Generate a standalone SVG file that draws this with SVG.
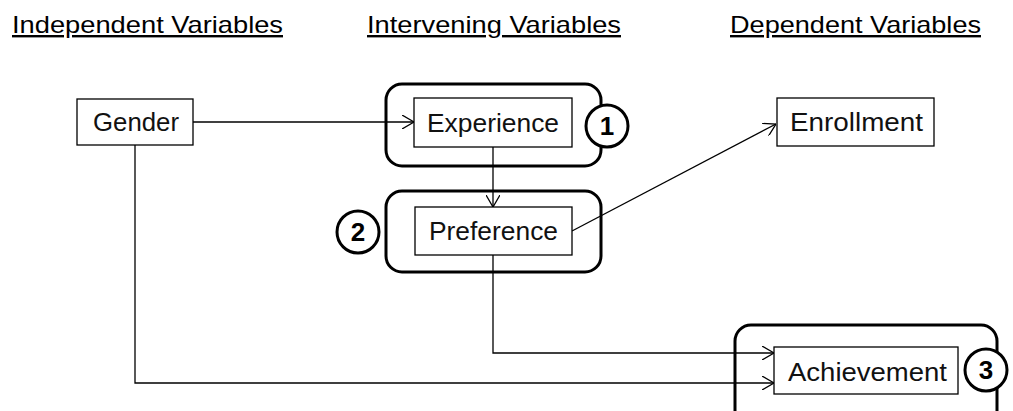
<svg xmlns="http://www.w3.org/2000/svg" width="1013" height="411" viewBox="0 0 1013 411">
<defs>
<style>
.hdr{font-family:"Liberation Sans",Arial,sans-serif;font-size:24px;fill:#000;text-decoration:underline}
.box{fill:#fff;stroke:#000;stroke-width:1.3}
.grp{fill:#fff;stroke:#000;stroke-width:3}
.lbl{font-family:"Liberation Sans",Arial,sans-serif;font-size:25px;fill:#111}
.num{font-family:"Liberation Sans",Arial,sans-serif;font-size:26px;font-weight:bold;fill:#000;text-anchor:middle}
.cir{fill:#fff;stroke:#000;stroke-width:3}
.con{fill:none;stroke:#000;stroke-width:1.3}
</style>
<marker id="arr" viewBox="0 0 12 14" refX="12" refY="7" markerWidth="12" markerHeight="14" markerUnits="userSpaceOnUse" orient="auto">
<path d="M0,0 L12,7 L0,14" fill="none" stroke="#000" stroke-width="1.3"/>
</marker>
</defs>
<rect width="1013" height="411" fill="#fff"/>
<g id="headers">
<text class="hdr" x="12" y="33" textLength="271" lengthAdjust="spacingAndGlyphs">Independent Variables</text>
<text class="hdr" x="367" y="33" textLength="254" lengthAdjust="spacingAndGlyphs">Intervening Variables</text>
<text class="hdr" x="730" y="33" textLength="251" lengthAdjust="spacingAndGlyphs">Dependent Variables</text>
</g>
<g id="group1">
<rect class="grp" x="386" y="84" width="215" height="82" rx="16"/>
</g>
<g id="group2">
<rect class="grp" x="386" y="191" width="215" height="81" rx="16"/>
</g>
<g id="group3">
<rect class="grp" x="735" y="325" width="262" height="110" rx="16"/>
</g>
<g id="connectors">
<path class="con" d="M193,122 H414" marker-end="url(#arr)"/>
<path class="con" d="M493,147 V207" marker-end="url(#arr)"/>
<path class="con" d="M572,231 L776,124" marker-end="url(#arr)"/>
<path class="con" d="M493,255 V353 H774" marker-end="url(#arr)"/>
<path class="con" d="M135,145 V383 H774" marker-end="url(#arr)"/>
</g>
<g id="gender">
<rect class="box" x="77" y="99" width="116" height="46"/>
<text class="lbl" x="93" y="131" textLength="86" lengthAdjust="spacingAndGlyphs">Gender</text>
</g>
<g id="experience">
<rect class="box" x="414" y="98" width="158" height="49"/>
<text class="lbl" x="427" y="132" textLength="132" lengthAdjust="spacingAndGlyphs">Experience</text>
</g>
<g id="preference">
<rect class="box" x="415" y="207" width="157" height="48"/>
<text class="lbl" x="429" y="240" textLength="129" lengthAdjust="spacingAndGlyphs">Preference</text>
</g>
<g id="enrollment">
<rect class="box" x="777" y="98" width="157" height="48"/>
<text class="lbl" x="790" y="131" textLength="133" lengthAdjust="spacingAndGlyphs">Enrollment</text>
</g>
<g id="achievement">
<rect class="box" x="774" y="347" width="184" height="47"/>
<text class="lbl" x="788" y="381" textLength="159" lengthAdjust="spacingAndGlyphs">Achievement</text>
</g>
<g id="marker1">
<circle class="cir" cx="607" cy="126" r="21"/>
<text class="num" x="607" y="135">1</text>
</g>
<g id="marker2">
<circle class="cir" cx="358" cy="232" r="21"/>
<text class="num" x="358" y="241">2</text>
</g>
<g id="marker3">
<circle class="cir" cx="986" cy="370" r="21"/>
<text class="num" x="986" y="379">3</text>
</g>
</svg>
